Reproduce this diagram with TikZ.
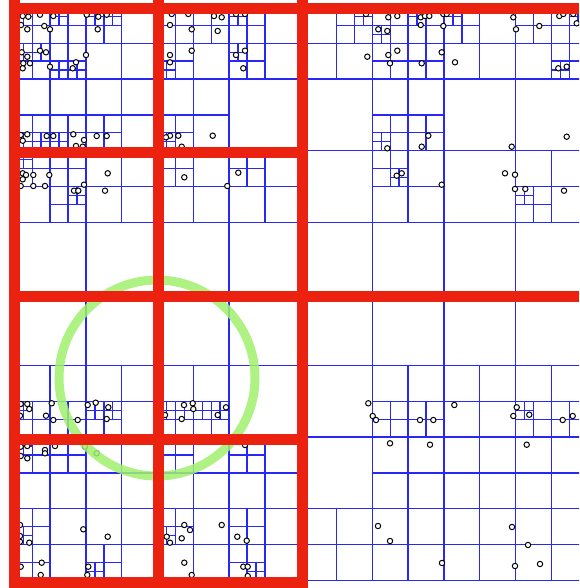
\documentclass[tikz,border=0pt]{standalone}
\usetikzlibrary{calc}
\definecolor{qblue}{RGB}{40,40,245}
\definecolor{qred}{RGB}{236,34,16}
\definecolor{qgreen}{RGB}{160,240,110}
\tikzset{
  qline/.style={draw=qblue, line width=1.4pt},
  pt/.style={draw=black, line width=1pt, fill=white},
  redline/.style={draw=qred, line width=11pt},
  ring/.style={draw=qgreen, line width=9pt, opacity=0.85}
}
\begin{document}
\begin{tikzpicture}[x=1pt,y=-1pt]
\useasboundingbox (0,0) rectangle (579,588);
\fill[white] (0,0) rectangle (579,588);
\begin{scope}
\clip (0,0) rectangle (579,588);
% quadtree
\begin{scope}[shift={(14.3,7.5)}, x=35.8pt, y=-35.8pt]
\draw[qline] (0,0) rectangle (16,16);
\foreach \a/\b/\s in {
  0/0/16,
  0/0/8, 8/0/8, 0/8/8, 8/8/8,
  0/0/4, 4/0/4, 8/0/4, 12/0/4, 0/4/4, 4/4/4, 8/4/4, 12/4/4,
  0/8/4, 4/8/4, 8/8/4, 12/8/4, 0/12/4, 4/12/4, 8/12/4, 12/12/4,
  0/0/2, 2/0/2, 0/2/2, 2/2/2, 4/0/2, 6/0/2, 4/2/2, 8/0/2, 10/0/2, 10/2/2,
  12/0/2, 14/0/2, 0/4/2, 2/4/2, 4/4/2, 6/4/2, 10/4/2, 14/4/2,
  0/10/2, 2/10/2, 4/10/2, 10/10/2, 12/10/2, 14/10/2,
  0/12/2, 2/12/2, 0/14/2, 2/14/2, 4/12/2, 6/12/2, 4/14/2, 6/14/2,
  10/12/2, 8/14/2, 10/14/2, 12/12/2, 14/12/2, 12/14/2, 14/14/2,
  0/0/1, 1/0/1, 0/1/1, 1/1/1, 2/0/1, 0/3/1, 1/3/1, 2/3/1,
  4/0/1, 5/0/1, 4/1/1, 6/0/1, 6/1/1, 4/3/1,
  9/0/1, 10/0/1, 11/0/1, 10/1/1, 11/1/1, 10/3/1, 11/3/1,
  12/0/1, 14/0/1, 15/0/1, 15/1/1,
  0/4/1, 1/4/1, 1/5/1, 4/4/1, 6/4/1, 10/4/1, 14/5/1,
  0/11/1, 1/11/1, 2/11/1, 4/11/1, 5/11/1, 10/11/1, 11/11/1, 14/11/1, 15/11/1,
  0/12/1, 1/12/1, 0/14/1, 0/15/1, 2/15/1, 4/12/1, 6/12/1, 4/14/1, 6/14/1, 6/15/1,
  0/0/0.5, 1/0/0.5, 2/0/0.5, 2.5/0/0.5, 0/1/0.5, 0.5/1/0.5, 1/1.5/0.5, 1.5/1.5/0.5,
  0/3.5/0.5, 0.5/3.5/0.5, 1/3.5/0.5,
  4/1.5/0.5, 6/0/0.5, 4/3.5/0.5, 6/1/0.5,
  9.5/0/0.5, 10/0.5/0.5, 11/0/0.5, 10/3.5/0.5,
  12/0/0.5, 15.5/0/0.5, 15/1.5/0.5,
  0/4/0.5, 1.5/5/0.5, 10.5/4.5/0.5, 14/5/0.5,
  0/11/0.5, 2/11/0.5, 2.5/11/0.5, 4/11/0.5, 4.5/11/0.5, 5/11/0.5, 5.5/11/0.5, 14/11/0.5,
  0/12/0.5, 0/14.5/0.5, 2/15.5/0.5, 4/14.5/0.5, 6.5/15.5/0.5}
  {\draw[qline] ({\a+\s/2},\b) -- ++(0,\s) (\a,{\b+\s/2}) -- ++(\s,0);}
\end{scope}
% points
\foreach \x/\y in {
 22.7/16, 28.3/16.7, 40/14.7, 53.3/16, 86.7/14.7, 98.3/16.7, 106.7/14.7,
 21/25, 27.3/29.3, 44.3/26, 50/29.3, 97.7/29.3,
 21.7/52.3, 27.3/56.7, 40/50.7, 46/52.3, 86/55, 76/62.3, 23.3/63.3, 30/63.3, 22.7/68.3, 50/66.7, 72.7/68.3,
 20.7/135, 27.3/134.3, 46.7/136, 53.3/136, 73.3/134.3, 84/140, 96.7/136, 106.7/136, 22.7/140.7, 76/146, 82.7/146.7,
 171.7/14, 188.3/14, 214/16, 221.7/17.3, 236/14, 245/14, 170/25, 191.7/29.3, 217.7/31,
 170/55, 170/62.3, 191.7/50.7, 236/55, 245/50.7, 243.3/68.3,
 170/135.7, 178.3/135.7, 212.7/135.7, 166/137.3, 181.7/146.7,
 366/14, 388.3/17.3, 397.3/16, 420.7/17.3, 425/16, 429.3/16, 420.7/25, 378.3/29.3, 387.3/31,
 367.3/56.7, 388.3/55, 397.3/50.7, 390/63.3, 421.7/63.3, 428.3/135.7, 387.3/148.3, 421.7/146.7,
 443.3/14, 446.7/14, 513.3/17.3, 559.3/16, 563.3/14, 573.3/14, 576.7/23.3, 443.3/26, 516/29.3, 539.3/26,
 441.7/52.3, 455/62.3, 558.3/68.3, 566.7/66.7, 566.7/136.7, 511.7/146.7,
 22.7/173.3, 26/175, 33.3/175, 22.7/179.3, 20.7/186, 33.3/186, 45/186, 49.3/175, 74/190.7, 78.3/190.7, 84/184.7, 107.7/173.3, 105/190.7,
 184.3/177.3, 238.3/172.7, 227.3/186,
 396.7/175.7, 401.7/173.3, 441.7/184.7, 505/173.3, 515/174.7, 515/189, 525.3/189, 564/190.7,
 20.7/404, 27.3/404, 29.3/409, 20/415.7, 51.7/403.3, 46/415.7, 53.3/420, 77.7/420, 87.7/405, 95.7/402.7, 108.3/407.3, 106.7/419,
 184/405, 192.7/403.3, 193.3/409, 181.7/419, 226/407.3, 217.7/415, 165/415,
 368.3/403.3, 372.7/416, 376/420, 420/420, 433.3/420, 454.3/405, 516.7/407.3, 513.3/416, 529.3/414.7, 562.7/420, 572.7/416,
 390/443.3, 430/444.7, 526.7/444.7,
 20.7/446.7, 27.3/446, 20.7/456, 27.3/458.3, 45/450, 45/453.3, 55/446, 85/446.7, 96.7/453.3,
 20/525, 20/536, 20/541.7, 29.3/542.7, 83.3/529.3, 107.7/536.7, 20.7/566.7, 41.7/562.7, 40.7/575, 88.3/566.7, 87.3/575,
 245/445, 184.3/525, 190/530, 166.7/536.7, 170/542.7, 181.7/538.3, 221.7/525, 237.3/536.7, 246.7/540.7,
 184.3/562.7, 191.7/575, 243.3/566.7, 247.7/566.7, 247.7/576,
 378/526, 390/541, 442/563, 512/527, 528/545, 540/564, 515/566}
 {\draw[pt] (\x,\y) circle (2.7);}
% ring
\draw[ring] (157,378) circle (98);
% red frame
\draw[redline] (14,0) -- (14,588);
\draw[redline] (158,0) -- (158,588);
\draw[redline] (302,0) -- (302,588);
\draw[redline] (8.5,8.5) -- (579,8.5);
\draw[redline] (8.5,296) -- (579,296);
\draw[redline] (8.5,152.5) -- (307.5,152.5);
\draw[redline] (8.5,439.5) -- (307.5,439.5);
\draw[redline] (8.5,582.5) -- (307.5,582.5);
\end{scope}
\end{tikzpicture}
\end{document}
